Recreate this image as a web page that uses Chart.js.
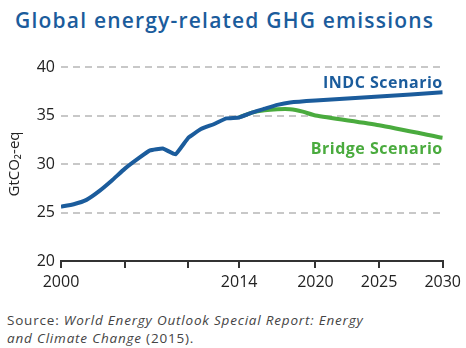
<!DOCTYPE html>
<html>
<head>
<meta charset="utf-8">
<script src="https://cdn.jsdelivr.net/npm/chart.js@4/dist/chart.umd.min.js"></script>
<style>
    body { margin: 0; background: #fff; width: 466px; height: 348px; overflow: hidden; font-family: "Open Sans", sans-serif; }
    #titulo { position: absolute; left: 15px; top: 5px; font-size: 21px; line-height: 30px; font-weight: 600; letter-spacing: 1.2px; color: #1b5c9c; white-space: nowrap; }
    #grafico { position: absolute; left: 0; top: 50px; }
    #fuente { position: absolute; left: 7px; top: 311px; font-size: 13.5px; line-height: 18px; letter-spacing: 0.8px; color: #444; white-space: nowrap; }
</style>
</head>
<body>
<div id="titulo">Global energy-related GHG emissions</div>
<canvas id="grafico" width="466" height="250"></canvas>
<div id="fuente">Source: <i>World Energy Outlook Special Report: Energy<br>and Climate Change</i> (2015).</div>
<script>
// datos
let anios = [2000, 2001, 2002, 2003, 2004, 2005, 2006, 2007, 2008, 2009, 2010, 2011, 2012, 2013, 2014, 2015, 2016, 2017, 2018, 2020, 2025, 2030]
let indc = [25.6, 25.85, 26.3, 27.2, 28.3, 29.5, 30.5, 31.4, 31.6, 31.0, 32.7, 33.6, 34.1, 34.7, 34.8, 35.3, 35.7, 36.1, 36.35, 36.55, 36.95, 37.4]
let aniosBridge = [2014, 2015, 2016, 2017, 2018, 2019, 2020, 2025, 2030]
let bridge = [34.8, 35.3, 35.55, 35.65, 35.65, 35.4, 35.0, 34.0, 32.7]
let ticksX = [2000, 2005, 2010, 2014, 2020, 2025, 2030]
let etiquetasX = ['2000', '', '', '2014', '2020', '2025', '2030']

const azul = '#1b5c9c'
const verde = '#4aab3e'

// textos de escenario al final de las lineas
const etiquetas = {
    id: 'etiquetas',
    afterDatasetsDraw(chart) {
        let ctx = chart.ctx
        let y = chart.scales.y
        let right = chart.chartArea.right
        ctx.save()
        ctx.font = 'bold 16px "Open Sans"'
        ctx.letterSpacing = '0.5px'
        ctx.textAlign = 'right'
        ctx.textBaseline = 'middle'
        ctx.fillStyle = azul
        ctx.fillText('INDC Scenario', right, y.getPixelForValue(38.3))
        ctx.fillStyle = verde
        ctx.fillText('Bridge Scenario', right, y.getPixelForValue(31.5))
        ctx.restore()
    }
}

let grafico = new Chart(document.getElementById('grafico'), {
    type: 'line',
    data: {
        datasets: [
            {
                label: 'INDC Scenario',
                data: anios.map((a, i) => ({ x: a, y: indc[i] })),
                borderColor: azul,
                borderWidth: 4,
                pointRadius: 0,
                tension: 0.1
            },
            {
                label: 'Bridge Scenario',
                data: aniosBridge.map((a, i) => ({ x: a, y: bridge[i] })),
                borderColor: verde,
                borderWidth: 4,
                pointRadius: 0,
                tension: 0.2
            }
        ]
    },
    options: {
        responsive: false,
        animation: false,
        layout: { padding: { top: 17, right: 23, left: 0, bottom: 0 } },
        plugins: {
            legend: { display: false },
            tooltip: { enabled: false }
        },
        scales: {
            x: {
                type: 'linear',
                min: 2000,
                max: 2030,
                afterBuildTicks: s => { s.ticks = ticksX.map(v => ({ value: v })) },
                afterFit: s => { s.height = 39 },
                ticks: {
                    autoSkip: false,
                    maxRotation: 0,
                    padding: 5,
                    color: '#222',
                    font: { family: 'Open Sans', size: 16 },
                    callback: (v, i) => etiquetasX[i]
                },
                grid: { drawOnChartArea: false, tickLength: 7, color: '#333', lineWidth: 2 },
                border: { display: true, color: '#333', width: 2 }
            },
            y: {
                min: 20,
                max: 40,
                afterFit: s => { s.width = 61 },
                ticks: {
                    stepSize: 5,
                    padding: 6,
                    color: '#222',
                    font: { family: 'Open Sans', size: 16 }
                },
                title: {
                    display: true,
                    text: 'GtCO₂-eq',
                    color: '#222',
                    padding: { top: 6, bottom: 0 },
                    font: { family: 'Open Sans', size: 15 }
                },
                grid: {
                    drawTicks: false,
                    color: ctx => ctx.tick.value === 20 ? 'rgba(0,0,0,0)' : '#c8c8c8',
                    lineWidth: 2
                },
                border: { display: false, dash: [7, 5] }
            }
        }
    },
    plugins: [etiquetas]
})
</script>
</body>
</html>
